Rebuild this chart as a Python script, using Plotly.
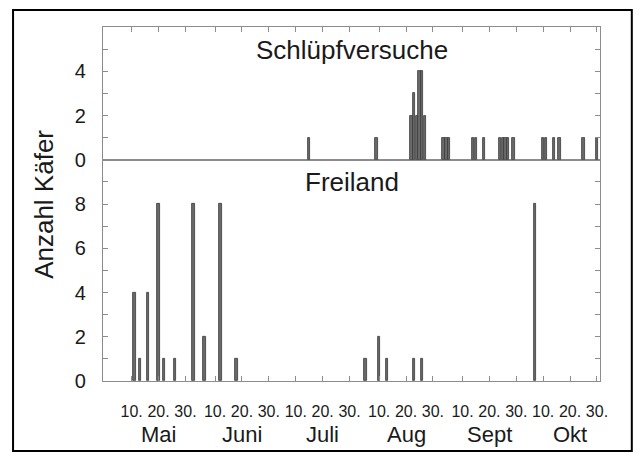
import plotly.graph_objects as go

YEAR = "2001"

# Schlüpfversuche (top panel)
top_dates = ["07-15", "08-09", "08-22", "08-23", "08-24", "08-25", "08-26", "08-27",
             "09-03", "09-04", "09-05", "09-14", "09-15", "09-18",
             "09-24", "09-25", "09-26", "09-27", "09-29",
             "10-10", "10-11", "10-14", "10-16", "10-25", "10-30"]
top_counts = [1, 1, 2, 3, 2, 4, 4, 2,
              1, 1, 1, 1, 1, 1,
              1, 1, 1, 1, 1,
              1, 1, 1, 1, 1, 1]

# Freiland (bottom panel)
bottom_dates = ["05-11", "05-13", "05-16", "05-20", "05-22", "05-26", "06-02", "06-06",
                "06-12", "06-18", "08-05", "08-10", "08-13", "08-23", "08-26", "10-07"]
bottom_counts = [4, 1, 4, 8, 1, 1, 8, 2, 8, 1, 1, 2, 1, 1, 1, 8]

months = ["05", "06", "07", "08", "09", "10"]
month_labels = ["Mai", "Juni", "Juli", "Aug", "Sept", "Okt"]
tick_days = ["10", "20", "30"]

tickvals = [f"{YEAR}-{m}-{d}" for m in months for d in tick_days]
ticktext = [f"{d}." for m in months for d in tick_days]

DAY_MS = 86400000
bar_style = dict(marker=dict(color="#6a6a6a", line=dict(color="#3a3a3a", width=0.8)),
                 width=DAY_MS * 0.9, showlegend=False, hoverinfo="x+y")

fig = go.Figure()
fig.add_trace(go.Bar(x=[f"{YEAR}-{d}" for d in bottom_dates], y=bottom_counts,
                     xaxis="x", yaxis="y", **bar_style))
fig.add_trace(go.Bar(x=[f"{YEAR}-{d}" for d in top_dates], y=top_counts,
                     xaxis="x2", yaxis="y2", **bar_style))

xrange = [f"{YEAR}-04-29 08:00", f"{YEAR}-10-31 03:00"]
axis_col = "#8c8c8c"
font_col = "#1a1a1a"
split = 10 / 16

common_x = dict(type="date", range=xrange, tickvals=tickvals, ticks="inside",
                ticklen=5, tickcolor=axis_col, showline=True, linecolor=axis_col,
                linewidth=1.2, mirror=True, showgrid=False, zeroline=False,
                automargin=False)

common_y = dict(ticks="inside", ticklen=5, tickcolor=axis_col, showline=True,
                linecolor=axis_col, linewidth=1.2, mirror="allticks", showgrid=False,
                zeroline=False, tickfont=dict(size=20), ticklabelstandoff=12,
                automargin=False)

fig.update_layout(
    width=643, height=459,
    margin=dict(l=103, r=43, t=27, b=78),
    paper_bgcolor="white", plot_bgcolor="white",
    font=dict(family="Liberation Sans, Arial, sans-serif", color=font_col),
    bargap=0,
    xaxis=dict(common_x, anchor="y", domain=[0, 1], ticktext=ticktext,
               showticklabels=True, tickfont=dict(size=16), ticklabelstandoff=16,
               tickangle=0),
    xaxis2=dict(common_x, anchor="y2", matches="x", side="top", showticklabels=False),
    yaxis=dict(common_y, domain=[0, split], range=[0, 10], tickvals=list(range(0, 11)),
               ticktext=[str(v) if v % 2 == 0 and v < 10 else "" for v in range(0, 11)]),
    yaxis2=dict(common_y, domain=[split, 1], range=[0, 6], tickvals=list(range(0, 7)),
                ticktext=[str(v) if v % 2 == 0 and v < 6 else "" for v in range(0, 7)]),
)

center = dict(xanchor="center", yanchor="middle", showarrow=False)
annotations = [
    dict(text="Schlüpfversuche", x=0.5, y=0.935, xref="paper", yref="paper",
         font=dict(size=26, color=font_col), **center),
    dict(text="Freiland", x=0.5, y=0.562, xref="paper", yref="paper",
         font=dict(size=26, color=font_col), **center),
    dict(text="Anzahl Käfer", x=-0.119, y=0.5, xref="paper", yref="paper",
         textangle=-90, font=dict(size=26, color=font_col), **center),
]
for m, lab in zip(months, month_labels):
    annotations.append(dict(text=lab, x=f"{YEAR}-{m}-20", y=-0.1525, xref="x",
                            yref="paper", font=dict(size=22, color=font_col), **center))
fig.update_layout(annotations=annotations)

fig.add_shape(type="rect", xref="paper", yref="paper",
              x0=-0.181, x1=1.064, y0=-0.198, y1=1.048,
              line=dict(color="black", width=2), fillcolor="rgba(0,0,0,0)")

fig.write_html("out.html", config={"displayModeBar": False},
               post_script="document.body.style.margin='0';")
